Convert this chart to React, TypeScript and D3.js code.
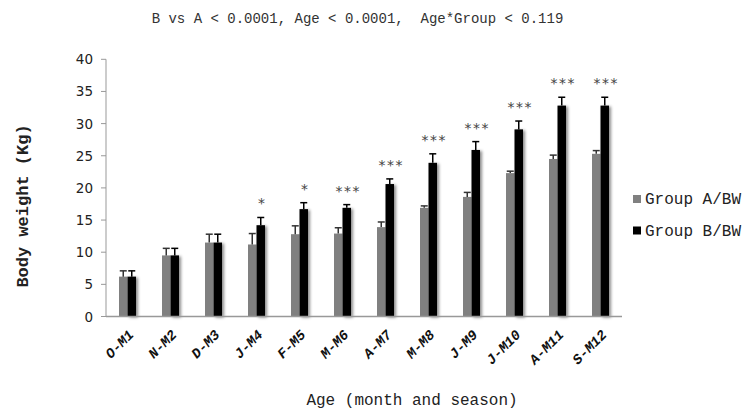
import React from "react";
import * as d3 from "d3";

const categories = ["O-M1", "N-M2", "D-M3", "J-M4", "F-M5", "M-M6", "A-M7", "M-M8", "J-M9", "J-M10", "A-M11", "S-M12"];
const groupA = [6.2, 9.5, 11.5, 11.2, 12.8, 12.9, 13.9, 16.9, 18.6, 22.3, 24.5, 25.3];
const groupAErr = [0.9, 1.1, 1.3, 1.7, 1.3, 0.9, 0.8, 0.3, 0.7, 0.3, 0.6, 0.5];
const groupB = [6.2, 9.5, 11.5, 14.2, 16.7, 16.9, 20.6, 23.9, 25.9, 29.1, 32.8, 32.8];
const groupBErr = [0.9, 1.1, 1.3, 1.2, 1.0, 0.5, 0.8, 1.4, 1.3, 1.3, 1.3, 1.3];
const significance = ["", "", "", "*", "*", "***", "***", "***", "***", "***", "***", "***"];
const yTicks = [0, 5, 10, 15, 20, 25, 30, 35, 40];
const seriesNames = ["Group A/BW", "Group B/BW"];
const titleText = "B vs A < 0.0001, Age < 0.0001,  Age*Group < 0.119";
const yTitle = "Body weight (Kg)";
const xTitle = "Age (month and season)";

const W = 745;
const H = 413;
const left = 106;
const right = 622;
const top = 59.3;
const bottom = 316.5;

const mono = "'Liberation Mono', 'Courier New', monospace";

export default function App() {
  const x = d3.scaleBand<string>().domain(categories).range([left, right]).padding(0);
  const y = d3.scaleLinear().domain([0, 40]).range([bottom, top]);
  const bw = 8.5;
  const colors = ["#808080", "#000000"];

  return (
    <svg width={W} height={H} style={{ position: "absolute", left: 0, top: 0, background: "#fff" }}>
      <defs>
        <filter id="shadow" x="-50%" y="-10%" width="200%" height="130%">
          <feDropShadow dx="2" dy="1" stdDeviation="1.5" floodColor="#000" floodOpacity="0.45" />
        </filter>
      </defs>
      <rect width={W} height={H} fill="#fff" />
      <text x={357.5} y={23} textAnchor="middle" fontFamily={mono} fontSize={14} fill="#333" style={{ whiteSpace: "pre" }}>
        {titleText}
      </text>

      {/* y axis */}
      <line x1={left} x2={left} y1={y(40)} y2={bottom} stroke="#999" strokeWidth={1} />
      {yTicks.map((t) => (
        <g key={t}>
          <line x1={left - 5} x2={left} y1={y(t)} y2={y(t)} stroke="#999" strokeWidth={1} />
          <text x={93} y={y(t) + 5} textAnchor="end" fontFamily="'DejaVu Sans', Verdana, sans-serif" fontSize={13.5} fill="#222">
            {t}
          </text>
        </g>
      ))}
      <text
        transform={`translate(28,206) rotate(-90)`}
        textAnchor="middle"
        fontFamily={mono}
        fontWeight="bold"
        fontSize={17}
        fill="#222"
      >
        {yTitle}
      </text>

      {/* bars */}
      {categories.map((c, i) => {
        const cx = (x(c) as number) + x.bandwidth() / 2;
        const vals = [groupA[i], groupB[i]];
        const errs = [groupAErr[i], groupBErr[i]];
        return (
          <g key={c}>
            {vals.map((v, k) => {
              const bx = k === 0 ? cx - bw : cx;
              const ex = bx + bw / 2;
              const et = y(v + errs[k]);
              return (
                <g key={k}>
                  <rect
                    x={bx}
                    y={y(v)}
                    width={bw}
                    height={bottom - y(v)}
                    fill={colors[k]}
                    filter={k === 1 ? "url(#shadow)" : undefined}
                  />
                  <line x1={ex} x2={ex} y1={y(v)} y2={et} stroke={k === 0 ? "#333" : "#000"} strokeWidth={1.5} />
                  <line x1={ex - 3.5} x2={ex + 3.5} y1={et} y2={et} stroke={k === 0 ? "#333" : "#000"} strokeWidth={1.5} />
                </g>
              );
            })}
            {significance[i] && (
              <text
                x={cx + 5}
                y={y(groupB[i] + groupBErr[i]) - 9}
                textAnchor="middle"
                fontFamily="'DejaVu Sans Mono', monospace"
                fontSize={14}
                fill="#444"
              >
                {significance[i]}
              </text>
            )}
            <text
              transform={`translate(${cx + 7},${bottom + 19}) rotate(-45)`}
              textAnchor="end"
              fontFamily={mono}
              fontWeight="bold"
              fontStyle="italic"
              fontSize={14}
              fill="#111"
            >
              {c}
            </text>
          </g>
        );
      })}

      {/* x axis */}
      <line x1={left} x2={right} y1={bottom} y2={bottom} stroke="#999" strokeWidth={1.5} />
      <text x={412} y={405} textAnchor="middle" fontFamily={mono} fontSize={16} fill="#222">
        {xTitle}
      </text>

      {/* legend */}
      {seriesNames.map((s, k) => (
        <g key={s}>
          <rect x={633} y={195 + k * 31.5} width={8} height={8} fill={colors[k]} />
          <text x={645} y={204 + k * 31.5} fontFamily={mono} fontSize={16} fill="#222">
            {s}
          </text>
        </g>
      ))}
    </svg>
  );
}
